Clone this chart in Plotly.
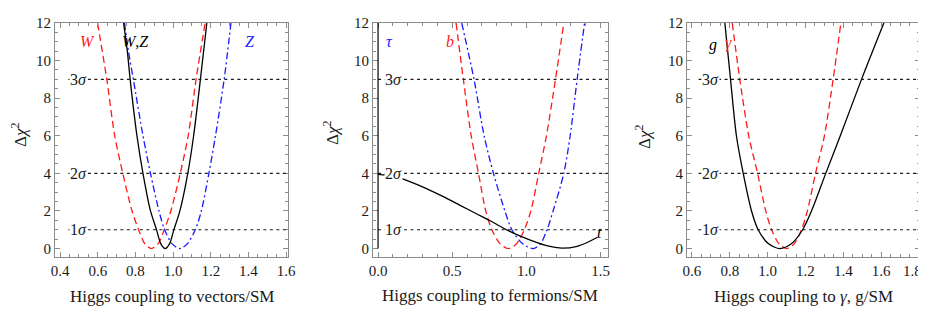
"""three delta chi^2 panels for Higgs couplings"""
import plotly.graph_objects as go
from plotly.subplots import make_subplots

# panel 1: vectors
w_x = [0.599, 0.648, 0.690, 0.733, 0.782, 0.817, 0.850, 0.885, 0.920, 0.953, 0.988, 1.038, 1.080, 1.122, 1.170]
w_y = [12, 9, 6, 4, 2, 1, 0.25, 0, 0.25, 1, 2, 4, 6, 9, 12]
wz_x = [0.737, 0.757, 0.772, 0.808, 0.840, 0.880, 0.912, 0.935, 0.958, 0.981, 1.004, 1.036, 1.078, 1.109, 1.145, 1.179]
wz_y = [12, 10.5, 9, 6, 4, 2, 1, 0.25, 0, 0.25, 1, 2, 4, 6, 9, 12]
z_x = [0.742, 0.763, 0.789, 0.840, 0.880, 0.925, 0.955, 0.995, 1.035, 1.075, 1.118, 1.150, 1.190, 1.225, 1.271, 1.307]
z_y = [12, 10.5, 9, 6, 4, 2, 1, 0.25, 0, 0.25, 1, 2, 4, 6, 9, 12]

# panel 2: fermions
b_x = [0.526, 0.575, 0.628, 0.677, 0.726, 0.767, 0.823, 0.878, 0.933, 0.986, 1.030, 1.083, 1.135, 1.196, 1.252]
b_y = [12, 9, 6, 4, 2, 1, 0.25, 0, 0.25, 1, 2, 4, 6, 9, 12]
tau_x = [0.564, 0.647, 0.715, 0.778, 0.855, 0.902, 0.975, 1.045, 1.095, 1.139, 1.180, 1.252, 1.295, 1.342, 1.392]
tau_y = [12, 9, 6, 4, 2, 1, 0.25, 0, 0.25, 1, 2, 4, 6, 9, 12]
t_x = [0.0, 0.10, 0.214, 0.327, 0.440, 0.553, 0.666, 0.756, 0.846, 0.959, 1.072, 1.160, 1.240, 1.342, 1.420, 1.480]
t_y = [3.95, 3.86, 3.56, 3.19, 2.76, 2.30, 1.84, 1.48, 1.08, 0.66, 0.32, 0.11, 0.02, 0.12, 0.36, 0.60]

# panel 3: photons and gluons
gam_x = [0.813, 0.853, 0.900, 0.947, 0.990, 1.021, 1.060, 1.100, 1.140, 1.179, 1.210, 1.253, 1.300, 1.346, 1.387]
gam_y = [12, 9, 6, 4, 2, 1, 0.25, 0, 0.25, 1, 2, 4, 6, 9, 12]
g_x = [0.774, 0.788, 0.804, 0.835, 0.871, 0.915, 0.950, 1.005, 1.065, 1.125, 1.185, 1.232, 1.307, 1.384, 1.496, 1.614]
g_y = [12, 10.6, 9, 6, 4, 2, 1, 0.25, 0, 0.25, 1, 2, 4, 6, 9, 12]

sigma_levels = [1, 4, 9]
sigma_labels = ["1<i>σ</i>", "2<i>σ</i>", "3<i>σ</i>"]

# x tick values/labels per panel (last label of panel 3 is nudged in by hand)
x_tickvals = [
    [0.4, 0.6, 0.8, 1.0, 1.2, 1.4, 1.6],
    [0.0, 0.5, 1.0, 1.5],
    [0.6, 0.8, 1.0, 1.2, 1.4, 1.6, 1.8],
]
x_ticktext = [
    ["0.4", "0.6", "0.8", "1.0", "1.2", "1.4", "1.6"],
    ["0.0", "0.5", "1.0", "1.5"],
    ["0.6", "0.8", "1.0", "1.2", "1.4", "1.6", ""],
]

W, H = 926, 322
OFF = 8  # the page body margin shifts the figure by this many px
SERIF = "Liberation Serif"
RED = "#ff1a1a"
BLUE = "#1a1aff"
FRAME = "#8c8c8c"
INK = "#1a1a1a"


def px(sx):
    return (sx - OFF) / W


def py(sy):
    return 1 - (sy - OFF) / H


fig = make_subplots(rows=1, cols=3)

red_line = {"color": RED, "width": 1.3, "dash": "7px,4px", "shape": "spline", "smoothing": 0.8}
blue_line = {"color": BLUE, "width": 1.3, "dash": "7px,3px,2px,3px", "shape": "spline", "smoothing": 0.8}
black_line = {"color": "black", "width": 1.3, "shape": "spline", "smoothing": 0.8}

curves = [
    (1, w_x, w_y, red_line),
    (1, z_x, z_y, blue_line),
    (1, wz_x, wz_y, black_line),
    (2, b_x, b_y, red_line),
    (2, tau_x, tau_y, blue_line),
    (2, t_x, t_y, black_line),
    (3, gam_x, gam_y, red_line),
    (3, g_x, g_y, black_line),
]
for col, xs, ys, line in curves:
    fig.add_trace(
        go.Scatter(x=xs, y=ys, mode="lines", line=line, showlegend=False, hoverinfo="skip"),
        row=1,
        col=col,
    )

# screen pixel boxes of the three frames
boxes = [(55, 288), (373, 608), (687, 920)]
y_top, y_bot = 23, 257
x_ranges = [[0.373, 1.61], [-0.034, 1.55], [0.574, 1.805]]
x_minor = [(0.4, 0.05), (0.0, 0.1), (0.6, 0.05)]
x_titles = [
    "Higgs coupling to vectors/SM",
    "Higgs coupling to fermions/SM",
    "Higgs coupling to <i>γ</i>, g/SM",
]

axis_common = {
    "showline": True,
    "linecolor": FRAME,
    "linewidth": 1,
    "mirror": "allticks",
    "ticks": "inside",
    "ticklen": 5,
    "tickcolor": FRAME,
    "tickfont": {"family": SERIF, "size": 15, "color": INK},
    "showgrid": False,
    "zeroline": False,
    "automargin": False,
}

for i in range(3):
    n = "" if i == 0 else str(i + 1)
    x0, x1 = boxes[i]
    fig.layout["xaxis" + n].update(
        domain=[px(x0), px(x1)],
        range=x_ranges[i],
        tickmode="array",
        tickvals=x_tickvals[i],
        ticktext=x_ticktext[i],
        minor={
            "tickmode": "linear",
            "tick0": x_minor[i][0],
            "dtick": x_minor[i][1],
            "ticks": "inside",
            "ticklen": 3,
            "tickcolor": FRAME,
        },
        **axis_common,
    )
    fig.layout["yaxis" + n].update(
        domain=[py(y_bot), py(y_top)],
        range=[-0.45, 12],
        tickmode="linear",
        tick0=0,
        dtick=2,
        minor={"dtick": 0.5, "ticks": "inside", "ticklen": 3, "tickcolor": FRAME},
        **axis_common,
    )

# the last tick label of panel 3 sits pulled in from the page edge
fig.add_annotation(
    x=px(912), y=py(271), xref="paper", yref="paper",
    xanchor="center", yanchor="middle", text="1.8", showarrow=False,
    font={"family": SERIF, "size": 15, "color": INK},
)

# dotted sigma lines and their labels
line_start = [0.444, 0.0, 0.635]
label_x = [0.497, 0.106, 0.699]
for i in range(3):
    n = "" if i == 0 else str(i + 1)
    for lev, lab in zip(sigma_levels, sigma_labels):
        fig.add_shape(
            type="line",
            xref="x" + n,
            yref="y" + n,
            x0=line_start[i],
            x1=x_ranges[i][1],
            y0=lev,
            y1=lev,
            line={"color": INK, "width": 1.2, "dash": "3px,3.5px"},
        )
        fig.add_annotation(
            x=label_x[i],
            y=lev,
            xref="x" + n,
            yref="y" + n,
            xanchor="center",
            yanchor="middle",
            text=lab,
            showarrow=False,
            bgcolor="white",
            borderpad=0,
            font={"family": SERIF, "size": 16, "color": INK},
        )

# Mathematica axis at x=0 in the fermion panel
fig.add_shape(
    type="line", xref="x2", yref="y2", x0=0, x1=0, y0=0, y1=12,
    line={"color": "black", "width": 1.2},
)

# curve labels
curve_labels = [
    ("", 0.546, 11.0, "<i>W</i>", RED),
    ("", 0.798, 11.0, "<i>W</i>,<i>Z</i>", "black"),
    ("", 1.409, 11.0, "<i>Z</i>", BLUE),
    ("2", 0.079, 11.0, "<i>τ</i>", BLUE),
    ("2", 0.485, 11.0, "<i>b</i>", RED),
    ("2", 1.49, 0.85, "<i>t</i>", "black"),
    ("3", 0.712, 10.85, "<i>g</i>", "black"),
    ("3", 0.792, 10.95, "<i>γ</i>", RED),
]
for n, x, y, txt, col in curve_labels:
    fig.add_annotation(
        x=x, y=y, xref="x" + n, yref="y" + n, text=txt, showarrow=False,
        xanchor="center", yanchor="middle",
        font={"family": SERIF, "size": 16, "color": col},
    )

# axis titles (screen pixel centres)
ylab_pos = [(19, 135), (331, 133), (643, 137)]
xlab_pos = [(171.5, 296), (490, 295), (803, 296)]
for i in range(3):
    fig.add_annotation(
        x=px(ylab_pos[i][0]), y=py(ylab_pos[i][1]), xref="paper", yref="paper",
        xanchor="center", yanchor="middle",
        text="Δ<i>χ</i><sup>2</sup>", textangle=-90, showarrow=False,
        font={"family": SERIF, "size": 17, "color": INK},
    )
    fig.add_annotation(
        x=px(xlab_pos[i][0]), y=py(xlab_pos[i][1]), xref="paper", yref="paper",
        xanchor="center", yanchor="middle",
        text=x_titles[i], showarrow=False,
        font={"family": SERIF, "size": 17, "color": INK},
    )

fig.update_layout(
    width=W,
    height=H,
    margin={"l": 0, "r": 0, "t": 0, "b": 0},
    paper_bgcolor="white",
    plot_bgcolor="white",
    showlegend=False,
    font={"family": SERIF, "color": INK},
)

fig.write_html("out.html")
